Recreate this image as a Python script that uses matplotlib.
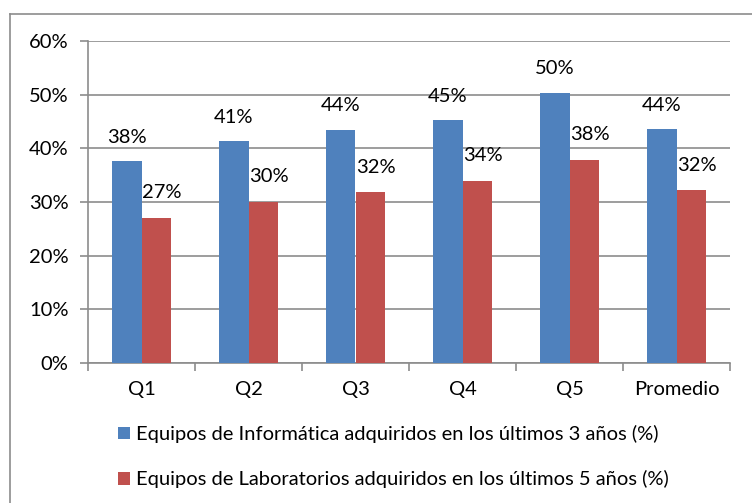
import matplotlib
matplotlib.use("Agg")
import matplotlib.pyplot as plt
from matplotlib.patches import Patch
from matplotlib.lines import Line2D
import numpy as np

categories = ["Q1", "Q2", "Q3", "Q4", "Q5", "Promedio"]
informatica = [37.6, 41.4, 43.5, 45.2, 50.4, 43.6]
laboratorios = [27.1, 30.0, 31.8, 34.0, 37.9, 32.2]
labels_inf = ["38%", "41%", "44%", "45%", "50%", "44%"]
labels_lab = ["27%", "30%", "32%", "34%", "38%", "32%"]
series_names = ["Equipos de Informática adquiridos en los últimos 3 años (%)",
                "Equipos de Laboratorios adquiridos en los últimos 5 años (%)"]
yticks = [0, 10, 20, 30, 40, 50, 60]

blue = "#4F81BD"
red = "#C0504D"
grid = "#8c8c8c"
fs = 14.5

plt.rcParams["font.family"] = ["Lato", "DejaVu Sans"]

fig = plt.figure(figsize=(7.52, 5.03), dpi=100)
ax = fig.add_axes([88/752, 1-363/503, 642/752, 322/503])

x = np.arange(len(categories))
w = 0.28
b1 = ax.bar(x - w/2, informatica, w, color=blue, zorder=3)
b2 = ax.bar(x + w/2, laboratorios, w, color=red, zorder=3)

for rect, lab in zip(b1, labels_inf):
    ax.annotate(lab, (rect.get_x() + rect.get_width()/2, rect.get_height()),
                xytext=(0, 11), textcoords="offset points",
                ha="center", va="bottom", fontsize=fs, color="black")
for rect, lab in zip(b2, labels_lab):
    ax.annotate(lab, (rect.get_x() + rect.get_width()/2, rect.get_height()),
                xytext=(4, 12), textcoords="offset points",
                ha="center", va="bottom", fontsize=fs, color="black")

ax.set_ylim(0, 60)
ax.set_xlim(-0.5, len(categories) - 0.5)
ax.set_yticks(yticks)
ax.set_yticklabels([f"{t}%" for t in yticks], fontsize=fs)
ax.yaxis.grid(True, color=grid, linewidth=1.2, zorder=0)
ax.set_axisbelow(True)

ax.set_xticks(np.arange(len(categories) + 1) - 0.5)
ax.set_xticklabels([])
ax.set_xticks(x, minor=True)
ax.set_xticklabels(categories, minor=True, fontsize=fs)
ax.tick_params(axis="x", which="minor", length=0, pad=13)
ax.tick_params(axis="x", which="major", length=6, color=grid, width=1.2, direction="out")
ax.tick_params(axis="y", length=6, color=grid, width=1.2, pad=8)

for s in ["top", "right"]:
    ax.spines[s].set_visible(False)
for s in ["left", "bottom"]:
    ax.spines[s].set_color(grid)
    ax.spines[s].set_linewidth(1.2)

handles = [Patch(facecolor=blue, edgecolor="none"), Patch(facecolor=red, edgecolor="none")]
leg = fig.legend(handles, series_names, loc="upper left",
                 bbox_to_anchor=(118/752, 1-425/503), frameon=False, borderpad=0,
                 borderaxespad=0,
                 fontsize=fs, handlelength=0.6, handleheight=0.6,
                 handletextpad=0.3, labelspacing=1.35)

# outer chart border (left and top visible)
fig.add_artist(Line2D([9.5/752, 9.5/752], [0, 1-13.5/503], transform=fig.transFigure,
                      color=grid, linewidth=1.2))
fig.add_artist(Line2D([9.5/752, 1], [1-13.5/503, 1-13.5/503], transform=fig.transFigure,
                      color=grid, linewidth=1.2))

fig.savefig("out.png", dpi=100)
